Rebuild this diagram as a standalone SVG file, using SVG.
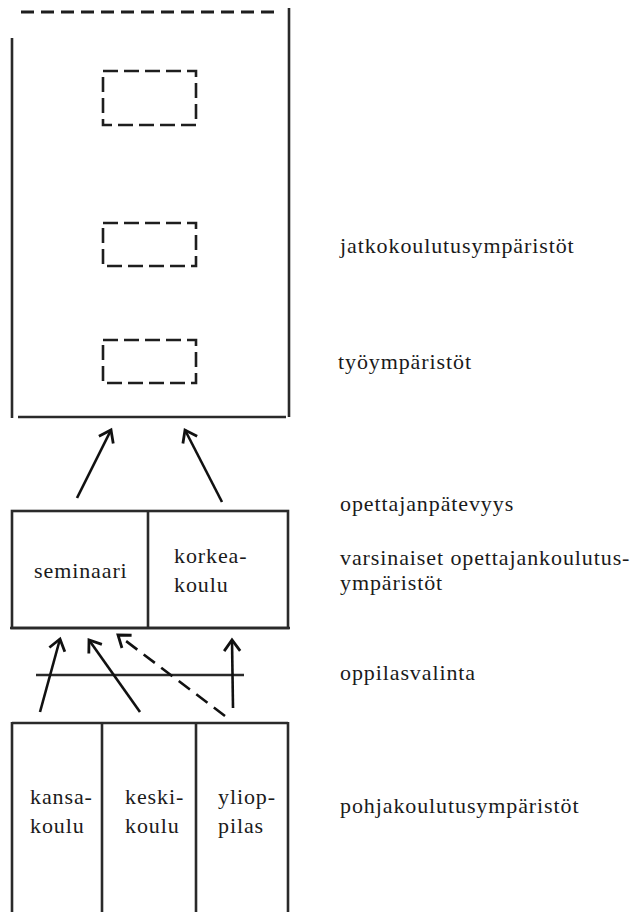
<svg xmlns="http://www.w3.org/2000/svg" width="638" height="912" viewBox="0 0 638 912">
<style>
.ln{stroke:#2a2a2a;stroke-width:2.6;fill:none;stroke-linecap:butt}
.dash{stroke:#1e1e1e;stroke-width:2.8;fill:none;stroke-dasharray:13 7}
.dr{stroke:#1e1e1e;stroke-width:2.6;fill:none;stroke-dasharray:15 6}
.ar{stroke:#111;stroke-width:2.6;fill:none;marker-end:url(#ah)}
.ard{stroke:#111;stroke-width:2.6;fill:none;stroke-dasharray:14 8;marker-end:url(#ah)}
.t{font-family:"Liberation Serif","DejaVu Serif",serif;font-size:22px;letter-spacing:0.9px;fill:#1a1a1a}
</style>
<defs>
<marker id="ah" markerUnits="userSpaceOnUse" markerWidth="30" markerHeight="30" refX="15" refY="15" orient="auto" viewBox="0 0 30 30">
<path d="M4 7 L15 15 L4 23" fill="none" stroke="#111" stroke-width="2.8"/>
</marker>
</defs>
<g id="jatko-ymparisto">
<line class="dash" x1="21" y1="12" x2="278" y2="12"/>
<line class="ln" x1="289" y1="8" x2="289" y2="417"/>
<line class="ln" x1="12" y1="38" x2="12" y2="418"/>
<line class="ln" x1="18" y1="417" x2="286" y2="417"/>
<rect class="dr" x="103" y="71" width="93" height="54"/>
<rect class="dr" x="103" y="223" width="93" height="43"/>
<rect class="dr" x="103" y="340" width="93" height="43"/>
</g>
<g id="opettajankoulutus">
<rect class="ln" x="12" y="511" width="276" height="117"/>
<line class="ln" x1="148" y1="511" x2="148" y2="628"/>
<line class="ln" x1="10" y1="628" x2="290" y2="628"/>
<text class="t" x="34" y="578">seminaari</text>
<text class="t" x="174" y="563">korkea-</text>
<text class="t" x="174" y="592">koulu</text>
</g>
<g id="pohjakoulutus">
<line class="ln" x1="12" y1="723" x2="288" y2="723"/>
<line class="ln" x1="12" y1="722" x2="12" y2="912"/>
<line class="ln" x1="102" y1="722" x2="102" y2="912"/>
<line class="ln" x1="196" y1="722" x2="196" y2="912"/>
<line class="ln" x1="288" y1="722" x2="288" y2="912"/>
<text class="t" x="30" y="804">kansa-</text>
<text class="t" x="30" y="833">koulu</text>
<text class="t" x="125" y="804">keski-</text>
<text class="t" x="125" y="833">koulu</text>
<text class="t" x="218" y="804">yliop-</text>
<text class="t" x="218" y="833">pilas</text>
</g>
<g id="oppilasvalinta-viiva">
<line class="ln" x1="36" y1="675" x2="244" y2="675" stroke="#444"/>
</g>
<g id="connectors">
<line class="ar" x1="77" y1="498" x2="111" y2="430"/>
<line class="ar" x1="222" y1="502" x2="185" y2="430"/>
<line class="ar" x1="40" y1="712" x2="60" y2="639"/>
<line class="ar" x1="140" y1="712" x2="89" y2="640"/>
<line class="ard" x1="225" y1="716" x2="118" y2="635"/>
<line class="ar" x1="233" y1="708" x2="232" y2="640"/>
</g>
<g id="labels">
<text class="t" x="340" y="253">jatkokoulutusympäristöt</text>
<text class="t" x="338" y="369">työympäristöt</text>
<text class="t" x="340" y="511">opettajanpätevyys</text>
<text class="t" x="340" y="565">varsinaiset opettajankoulutus-</text>
<text class="t" x="340" y="590">ympäristöt</text>
<text class="t" x="340" y="680">oppilasvalinta</text>
<text class="t" x="340" y="813">pohjakoulutusympäristöt</text>
</g>
</svg>
